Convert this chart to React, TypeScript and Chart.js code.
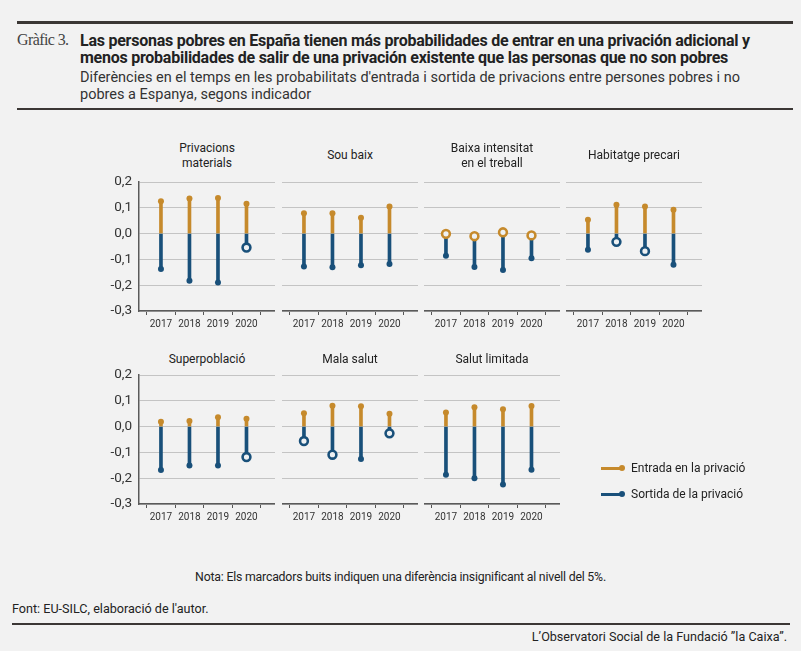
import { useEffect, useRef } from 'react';
import { Chart, registerables } from 'chart.js';
Chart.register(...registerables);

const years = [2017, 2018, 2019, 2020];
const yTicks = [0.2, 0.1, 0, -0.1, -0.2, -0.3];

const titles = [
  ['Privacions', 'materials'],
  ['Sou baix'],
  ['Baixa intensitat', 'en el treball'],
  ['Habitatge precari'],
  ['Superpoblació'],
  ['Mala salut'],
  ['Salut limitada'],
];

// entrada (orange) and sortida (blue) per indicator
const entradaMaterials = [0.125, 0.136, 0.138, 0.116];
const sortidaMaterials = [-0.137, -0.183, -0.19, -0.054];
const entradaSou = [0.079, 0.079, 0.061, 0.105];
const sortidaSou = [-0.128, -0.13, -0.123, -0.118];
const entradaTreball = [-0.001, -0.01, 0.005, -0.007];
const sortidaTreball = [-0.086, -0.129, -0.141, -0.096];
const entradaHabitatge = [0.054, 0.112, 0.105, 0.092];
const sortidaHabitatge = [-0.063, -0.032, -0.068, -0.121];
const entradaSuperpob = [0.019, 0.022, 0.036, 0.03];
const sortidaSuperpob = [-0.168, -0.151, -0.151, -0.118];
const entradaMala = [0.052, 0.081, 0.079, 0.05];
const sortidaMala = [-0.056, -0.109, -0.126, -0.026];
const entradaLimitada = [0.055, 0.075, 0.067, 0.08];
const sortidaLimitada = [-0.187, -0.2, -0.224, -0.167];

// 1 = hollow marker (not significant at 5%)
const entradaHollow = [
  [0, 0, 0, 0], [0, 0, 0, 0], [1, 1, 1, 1], [0, 0, 0, 0], [0, 0, 0, 0], [0, 0, 0, 0], [0, 0, 0, 0],
];
const sortidaHollow = [
  [0, 0, 0, 1], [0, 0, 0, 0], [0, 0, 0, 0], [0, 1, 1, 0], [0, 0, 0, 1], [1, 1, 0, 1], [0, 0, 0, 0],
];

const entrada = [entradaMaterials, entradaSou, entradaTreball, entradaHabitatge, entradaSuperpob, entradaMala, entradaLimitada];
const sortida = [sortidaMaterials, sortidaSou, sortidaTreball, sortidaHabitatge, sortidaSuperpob, sortidaMala, sortidaLimitada];

const ORANGE = '#c68a2c';
const BLUE = '#19507a';
const BG = '#f2f2f2';
const SANS = 'Roboto, "Liberation Sans", sans-serif';

const colLeft = [139, 282, 424, 566];
const rowTop = [182, 375];
const titleMid = [155.5, 359.5];
const PW = 136;
const YW = 40;
const PAD = 18;

function Panel({ i }: { i: number }) {
  const ref = useRef<HTMLCanvasElement>(null);
  const row = Math.floor(i / 4);
  const col = i % 4;
  const showY = col === 0;

  useEffect(() => {
    const bars = (vals: number[], color: string) => ({
      type: 'bar' as const,
      data: years.map((x, j) => ({ x, y: [0, vals[j]] })),
      backgroundColor: color,
      barThickness: 3,
      grouped: false,
      order: 2,
    });
    const marks = (vals: number[], hollow: number[], color: string) => ({
      type: 'line' as const,
      data: years.map((x, j) => ({ x, y: vals[j] })),
      showLine: false,
      pointRadius: hollow.map((h) => (h ? 3.9 : 3)),
      pointBorderWidth: hollow.map((h) => (h ? 2.6 : 0)),
      pointBackgroundColor: hollow.map((h) => (h ? '#eef1f3' : color)),
      pointBorderColor: color,
      order: 1,
    });

    const chart = new Chart(ref.current!, {
      type: 'bar',
      data: {
        datasets: [
          bars(sortida[i], BLUE),
          bars(entrada[i], ORANGE),
          marks(sortida[i], sortidaHollow[i], BLUE),
          marks(entrada[i], entradaHollow[i], ORANGE),
        ] as any,
      },
      options: {
        animation: false,
        responsive: false,
        events: [],
        layout: { padding: { top: PAD, left: 0, right: 0, bottom: 0 }, autoPadding: false },
        plugins: { legend: { display: false }, tooltip: { enabled: false } },
        scales: {
          x: {
            type: 'linear',
            offset: false,
            min: 2016.23,
            max: 2021,
            afterBuildTicks: (a: any) => { a.ticks = years.map((v) => ({ value: v })); },
            afterFit: (a: any) => { a.height = 22; },
            grid: { drawOnChartArea: false, drawTicks: true, tickLength: 4, color: '#555' },
            border: { color: '#5a5a5a', width: 1.5 },
            ticks: {
              padding: 3,
              color: '#333',
              autoSkip: false,
              maxRotation: 0,
              font: { family: SANS, size: 10 },
              callback: (v: any) => String(v),
            },
          },
          y: {
            min: -0.3,
            max: 0.2,
            afterBuildTicks: (a: any) => { a.ticks = yTicks.map((v) => ({ value: v })); },
            afterFit: (a: any) => { a.width = showY ? YW : 0; },
            grid: { color: '#c4c4c4', lineWidth: 1, drawTicks: false },
            border: { display: showY, color: '#5a5a5a', width: 1.5 },
            ticks: {
              display: showY,
              padding: 7,
              color: '#333',
              font: { family: SANS, size: 13.5 },
              callback: (v: any) => Number(v).toFixed(1).replace('.', ','),
            },
          },
        },
      },
    });
    return () => chart.destroy();
  }, [i, showY]);

  const left = colLeft[col] - (showY ? YW : 0);
  const width = PW + (showY ? YW : 0);
  const t = titles[i];
  return (
    <>
      <div
        style={{
          position: 'absolute',
          left: colLeft[col] - 20,
          width: PW + 40,
          top: titleMid[row] - (t.length * 15) / 2,
          lineHeight: '15px',
          fontSize: 12,
          fontFamily: SANS,
          color: '#222',
          textAlign: 'center',
        }}
      >
        {t.map((s) => <div key={s}>{s}</div>)}
      </div>
      <canvas
        ref={ref}
        width={width}
        height={PAD + 129 + 22}
        style={{ position: 'absolute', left, top: rowTop[row] - PAD, width, height: PAD + 129 + 22 }}
      />
    </>
  );
}

const abs = (o: any) => ({ position: 'absolute' as const, ...o });

export default function App() {
  return (
    <div style={abs({ left: 0, top: 0, width: 801, height: 651, background: BG, overflow: 'hidden', fontFamily: SANS })}>
      <div style={abs({ left: 17, top: 21, width: 776, height: 2.5, background: '#3b3735' })} />
      <div style={abs({ left: 17, top: 30, fontFamily: '"Liberation Serif", serif', fontSize: 16, letterSpacing: -0.6, color: '#444', lineHeight: '20px' })}>
        Gràfic 3.
      </div>
      <div style={abs({ left: 80, top: 31.5, fontSize: 16, fontWeight: 700, color: '#222', lineHeight: '17px', letterSpacing: -0.25, whiteSpace: 'nowrap' })}>
        <div>Las personas pobres en España tienen más probabilidades de entrar en una privación adicional y</div>
        <div>menos probabilidades de salir de una privación existente que las personas que no son pobres</div>
      </div>
      <div style={abs({ left: 80, top: 68.5, fontSize: 14.5, color: '#333', lineHeight: '17px', whiteSpace: 'nowrap' })}>
        <div>Diferències en el temps en les probabilitats d'entrada i sortida de privacions entre persones pobres i no</div>
        <div>pobres a Espanya, segons indicador</div>
      </div>
      <div style={abs({ left: 17, top: 107.5, width: 776, height: 2.5, background: '#3b3735' })} />

      {titles.map((_, i) => <Panel key={i} i={i} />)}

      {[[ORANGE, 'Entrada en la privació', 468], [BLUE, 'Sortida de la privació', 494]].map(([c, l, y]) => (
        <div key={l as string}>
          <div style={abs({ left: 601, top: (y as number) - 1.5, width: 21, height: 3, background: c as string })} />
          <div style={abs({ left: 619, top: (y as number) - 3, width: 6, height: 6, borderRadius: 3, background: c as string })} />
          <div style={abs({ left: 631, top: (y as number) - 8, fontSize: 12, lineHeight: '16px', color: '#222' })}>{l}</div>
        </div>
      ))}

      <div style={abs({ left: 0, width: 801, top: 569, textAlign: 'center', fontSize: 12.3, lineHeight: '16px', color: '#222', letterSpacing: -0.2 })}>
        Nota: Els marcadors buits indiquen una diferència insignificant al nivell del 5%.
      </div>
      <div style={abs({ left: 12, top: 601, fontSize: 12.6, lineHeight: '16px', color: '#222' })}>
        Font: EU-SILC, elaboració de l'autor.
      </div>
      <div style={abs({ left: 12, top: 622.5, width: 778, height: 2, background: '#3b3735' })} />
      <div style={abs({ right: 14, top: 628.5, fontSize: 12.6, lineHeight: '16px', color: '#222' })}>
        L’Observatori Social de la Fundació ”la Caixa”.
      </div>
    </div>
  );
}
